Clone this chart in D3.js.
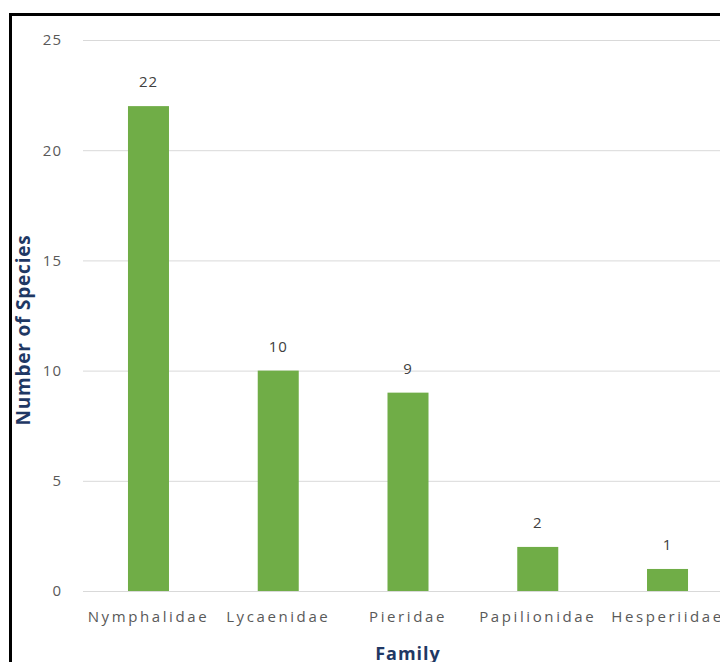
<!DOCTYPE html>
<html>
<head>
<meta charset="utf-8">
<script src="https://cdn.jsdelivr.net/npm/d3@7"></script>
<style>
  body { margin: 0; background: #fff; }
  svg { display: block; }
  .tick text { font-family: "Open Sans", sans-serif; fill: #595959; }
</style>
</head>
<body>
<svg id="chart" width="720" height="662"></svg>
<script>
const families = ["Nymphalidae", "Lycaenidae", "Pieridae", "Papilionidae", "Hesperiidae"];
const species = [22, 10, 9, 2, 1];
const yTicks = [0, 5, 10, 15, 20, 25];

const svg = d3.select('#chart');

// chart frame (cut off on the right and bottom)
svg.append("rect")
    .attr("x", 10.5).attr("y", 14.5)
    .attr("width", 740).attr("height", 680)
    .attr("fill", "none")
    .attr("stroke", "#000")
    .attr("stroke-width", 3);

const yScale = d3.scaleLinear().domain([0, 25]).range([591, 40]);
const xScale = d3.scaleBand()
    .domain(families)
    .range([83.6, 732.4])
    .paddingInner(0.684)
    .paddingOuter(0.342);

// gridlines + y labels
const yAxis = svg.append("g")
    .attr("transform", "translate(83,0)")
    .call(d3.axisLeft(yScale).tickValues(yTicks).tickSize(-660).tickPadding(21));
yAxis.select(".domain").remove();
yAxis.selectAll(".tick line").attr("stroke", "#d9d9d9");
yAxis.selectAll(".tick text")
    .attr("font-size", 15)
    .attr("letter-spacing", 1);

// x labels
const xAxis = svg.append("g")
    .attr("transform", "translate(0,591)")
    .call(d3.axisBottom(xScale).tickSize(0).tickPadding(20));
xAxis.select(".domain").remove();
xAxis.selectAll(".tick text")
    .attr("font-size", 15)
    .attr("letter-spacing", 2.6);

// bars
svg.selectAll(".bar")
    .data(species)
    .enter()
    .append("rect")
    .attr("class", "bar")
    .attr("x", (d, i) => xScale(families[i]))
    .attr("y", d => yScale(d))
    .attr("width", xScale.bandwidth())
    .attr("height", d => yScale(0) - yScale(d))
    .attr("fill", "#70ad47");

// value labels
svg.selectAll(".val")
    .data(species)
    .enter()
    .append("text")
    .attr("class", "val")
    .attr("x", (d, i) => xScale(families[i]) + xScale.bandwidth() / 2)
    .attr("y", d => yScale(d) - 19)
    .attr("text-anchor", "middle")
    .attr("font-family", "Open Sans, sans-serif")
    .attr("font-size", 15)
    .attr("letter-spacing", 1)
    .attr("fill", "#404040")
    .text(d => d);

// axis titles
svg.append("text")
    .attr("transform", "translate(30,330) rotate(-90)")
    .attr("text-anchor", "middle")
    .attr("font-family", "Open Sans, sans-serif")
    .attr("font-weight", "bold")
    .attr("font-size", 19)
    .attr("letter-spacing", 0.8)
    .attr("fill", "#1f3864")
    .text("Number of Species");

svg.append("text")
    .attr("x", xScale("Pieridae") + xScale.bandwidth() / 2)
    .attr("y", 660)
    .attr("text-anchor", "middle")
    .attr("font-family", "Open Sans, sans-serif")
    .attr("font-weight", "bold")
    .attr("font-size", 18)
    .attr("letter-spacing", 1)
    .attr("fill", "#1f3864")
    .text("Family");
</script>
</body>
</html>
